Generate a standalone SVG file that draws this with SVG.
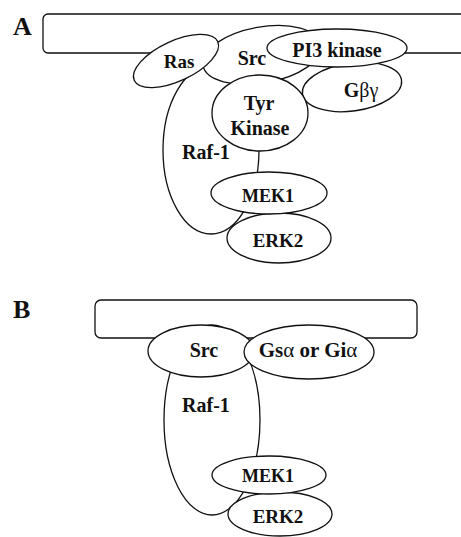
<svg xmlns="http://www.w3.org/2000/svg" width="461" height="537" viewBox="0 0 461 537">
<style>
.s{fill:#fff;stroke:#111;stroke-width:1.3}
.t{font-family:"Liberation Serif","Times New Roman",serif;font-weight:bold;fill:#111;text-anchor:middle}
.g{font-weight:normal}
.lbl{font-family:"Liberation Serif","Times New Roman",serif;font-weight:bold;fill:#111;font-size:26px}
</style>
<rect width="461" height="537" fill="#fff"/>
<text class="lbl" x="13" y="35">A</text>
<text class="lbl" x="13" y="318">B</text>
<g id="panelA">
<g id="membraneA"><rect class="s" x="43" y="14" width="440" height="39" rx="5"/></g>
<g id="raf1A"><ellipse class="s" cx="211" cy="150" rx="48" ry="84"/><text class="t" x="206" y="159" font-size="20">Raf-1</text></g>
<g id="srcA"><ellipse class="s" cx="262" cy="55" rx="60" ry="28" transform="rotate(-10 262 55)"/><text class="t" x="252" y="65" font-size="20">Src</text></g>
<g id="rasA"><ellipse class="s" cx="176" cy="61" rx="46" ry="20" transform="rotate(-25 176 61)"/><text class="t" x="179" y="68" font-size="19">Ras</text></g>
<g id="gbgA"><ellipse class="s" cx="352" cy="87" rx="50" ry="24" transform="rotate(-8 352 87)"/><text class="t" x="361" y="97" font-size="20">G<tspan class="g">βγ</tspan></text></g>
<g id="tyrA"><ellipse class="s" cx="260" cy="113" rx="48" ry="38"/><text class="t" x="259" y="110" font-size="20">Tyr</text><text class="t" x="260" y="135" font-size="20">Kinase</text></g>
<g id="pi3A"><ellipse class="s" cx="337" cy="48" rx="70" ry="19"/><text class="t" x="337" y="57" font-size="20">PI3 kinase</text></g>
<g id="erk2A"><ellipse class="s" cx="279" cy="238" rx="52" ry="25"/><text class="t" x="278" y="247" font-size="19">ERK2</text></g>
<g id="mek1A"><ellipse class="s" cx="269" cy="193" rx="58" ry="21"/><text class="t" x="268" y="202" font-size="18">MEK1</text></g>
</g>
<g id="panelB">
<g id="membraneB"><rect class="s" x="95" y="300" width="322" height="38" rx="6"/></g>
<g id="raf1B"><ellipse class="s" cx="212" cy="420" rx="48" ry="95"/><text class="t" x="206" y="412" font-size="20">Raf-1</text></g>
<g id="srcB"><ellipse class="s" cx="201" cy="351" rx="53" ry="26"/><text class="t" x="204" y="357" font-size="20">Src</text></g>
<g id="gsaB"><ellipse class="s" cx="309" cy="352" rx="65" ry="27"/><text class="t" x="308" y="357" font-size="21">Gs<tspan class="g">α</tspan> or Gi<tspan class="g">α</tspan></text></g>
<g id="erk2B"><ellipse class="s" cx="280" cy="514" rx="52" ry="22"/><text class="t" x="278" y="523" font-size="19">ERK2</text></g>
<g id="mek1B"><ellipse class="s" cx="269" cy="475" rx="57" ry="19"/><text class="t" x="268" y="482" font-size="18">MEK1</text></g>
</g>
<g id="connectors"></g>
</svg>
